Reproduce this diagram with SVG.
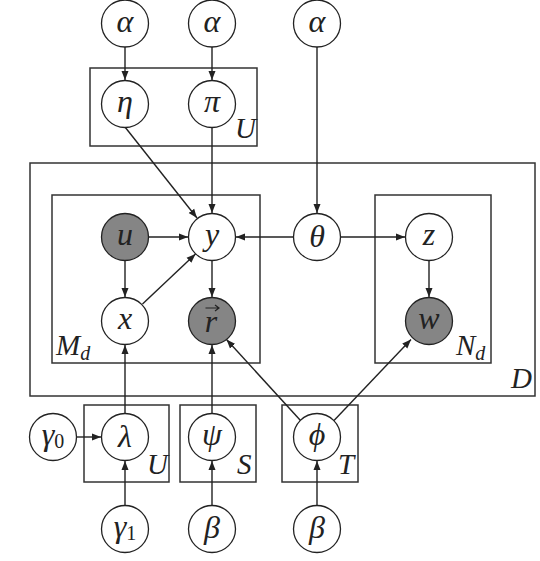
<svg xmlns="http://www.w3.org/2000/svg" width="540" height="561" viewBox="0 0 540 561">
<style>
.n{fill:#fff;stroke:#222;stroke-width:1.3}
.s{fill:#858585;stroke:#222;stroke-width:1.3}
.p{fill:none;stroke:#333;stroke-width:1.5}
.e{fill:none;stroke:#222;stroke-width:1.4}
.t{font-family:"Liberation Serif","DejaVu Serif",serif;font-style:italic;font-size:32px;fill:#222;text-anchor:middle}
.pl{font-family:"Liberation Serif","DejaVu Serif",serif;font-style:italic;font-size:29px;fill:#222}
.sub{font-size:20px}
.up{font-style:normal}
.acc{fill:none;stroke:#222;stroke-width:1.2}
</style>
<defs>
<marker id="a" markerUnits="userSpaceOnUse" markerWidth="10" markerHeight="8" refX="9" refY="4" orient="auto">
<path d="M0,0.5 L9,4 L0,7.5 Z" fill="#222"/>
</marker>
</defs>
<rect width="540" height="561" fill="#fff"/>
<g id="plates">
<rect id="plateU1" class="p" x="90" y="68" width="167" height="78"/>
<text class="pl" x="235" y="138">U</text>
<rect id="plateD" class="p" x="30" y="163" width="505" height="233"/>
<text class="pl" x="511" y="388">D</text>
<rect id="plateM" class="p" x="52" y="195" width="208" height="168"/>
<text class="pl" x="56" y="355">M<tspan class="sub" dy="5">d</tspan></text>
<rect id="plateN" class="p" x="375" y="195" width="116" height="168"/>
<text class="pl" x="456" y="355">N<tspan class="sub" dy="5">d</tspan></text>
<rect id="plateU2" class="p" x="84" y="405" width="85" height="77"/>
<text class="pl" x="147" y="474">U</text>
<rect id="plateS" class="p" x="180" y="405" width="76" height="77"/>
<text class="pl" x="237" y="474">S</text>
<rect id="plateT" class="p" x="282" y="405" width="76" height="77"/>
<text class="pl" x="338" y="474">T</text>
</g>
<g id="edges">
<line class="e" x1="125" y1="47" x2="125" y2="80" marker-end="url(#a)"/>
<line class="e" x1="212" y1="47" x2="212" y2="80" marker-end="url(#a)"/>
<line class="e" x1="317" y1="47" x2="317" y2="213" marker-end="url(#a)"/>
<line class="e" x1="125" y1="127" x2="197" y2="218" marker-end="url(#a)"/>
<line class="e" x1="212" y1="127" x2="212" y2="213" marker-end="url(#a)"/>
<line class="e" x1="148.5" y1="237" x2="188" y2="237" marker-end="url(#a)"/>
<line class="e" x1="293.5" y1="237" x2="236" y2="237" marker-end="url(#a)"/>
<line class="e" x1="340.5" y1="237" x2="405" y2="237" marker-end="url(#a)"/>
<line class="e" x1="125" y1="260.5" x2="125" y2="297" marker-end="url(#a)"/>
<line class="e" x1="142.5" y1="304" x2="195.5" y2="254" marker-end="url(#a)"/>
<line class="e" x1="212" y1="260.5" x2="212" y2="297" marker-end="url(#a)"/>
<line class="e" x1="429" y1="260.5" x2="429" y2="297" marker-end="url(#a)"/>
<line class="e" x1="125" y1="413.5" x2="125" y2="345" marker-end="url(#a)"/>
<line class="e" x1="212" y1="413.5" x2="212" y2="345" marker-end="url(#a)"/>
<line class="e" x1="300.5" y1="420.5" x2="226.5" y2="339.5" marker-end="url(#a)"/>
<line class="e" x1="334" y1="420.5" x2="411" y2="339.5" marker-end="url(#a)"/>
<line class="e" x1="76.5" y1="437" x2="101" y2="437" marker-end="url(#a)"/>
<line class="e" x1="125" y1="505.5" x2="125" y2="461" marker-end="url(#a)"/>
<line class="e" x1="212" y1="505.5" x2="212" y2="461" marker-end="url(#a)"/>
<line class="e" x1="317" y1="505.5" x2="317" y2="461" marker-end="url(#a)"/>
</g>
<g id="alpha1"><circle class="n" cx="125" cy="23.5" r="23.5"/><text class="t" x="125" y="32">α</text></g>
<g id="alpha2"><circle class="n" cx="212" cy="23.5" r="23.5"/><text class="t" x="212" y="32">α</text></g>
<g id="alpha3"><circle class="n" cx="317" cy="23.5" r="23.5"/><text class="t" x="317" y="32">α</text></g>
<g id="eta"><circle class="n" cx="125" cy="104" r="23.5"/><text class="t" x="125" y="112">η</text></g>
<g id="pi"><circle class="n" cx="212" cy="104" r="23.5"/><text class="t" x="212" y="112">π</text></g>
<g id="u"><circle class="s" cx="125" cy="237" r="23.5"/><text class="t" x="125" y="245">u</text></g>
<g id="y"><circle class="n" cx="212" cy="237" r="23.5"/><text class="t" x="212" y="245">y</text></g>
<g id="theta"><circle class="n" cx="317" cy="237" r="23.5"/><text class="t" x="317" y="247">θ</text></g>
<g id="z"><circle class="n" cx="429" cy="237" r="23.5"/><text class="t" x="429" y="245">z</text></g>
<g id="x"><circle class="n" cx="125" cy="321" r="23.5"/><text class="t" x="125" y="329">x</text></g>
<g id="r"><circle class="s" cx="212" cy="321" r="23.5"/><text class="t" x="211" y="332">r</text><path class="acc" d="M205.5,308 H218.5 M215,305 L219,308 L215,311"/></g>
<g id="w"><circle class="s" cx="429" cy="321" r="23.5"/><text class="t" x="429" y="329">w</text></g>
<g id="gamma0"><circle class="n" cx="53" cy="437" r="23.5"/><text class="t" x="53" y="445">γ<tspan class="sub up" dy="3">0</tspan></text></g>
<g id="lambda"><circle class="n" cx="125" cy="437" r="23.5"/><text class="t" x="125" y="447">λ</text></g>
<g id="psi"><circle class="n" cx="212" cy="437" r="23.5"/><text class="t" x="212" y="445">ψ</text></g>
<g id="phi"><circle class="n" cx="317" cy="437" r="23.5"/><text class="t" x="317" y="445">ϕ</text></g>
<g id="gamma1"><circle class="n" cx="125" cy="529" r="23.5"/><text class="t" x="125" y="537">γ<tspan class="sub up" dy="3">1</tspan></text></g>
<g id="beta1"><circle class="n" cx="212" cy="529" r="23.5"/><text class="t" x="212" y="538">β</text></g>
<g id="beta2"><circle class="n" cx="317" cy="529" r="23.5"/><text class="t" x="317" y="538">β</text></g>
</svg>
